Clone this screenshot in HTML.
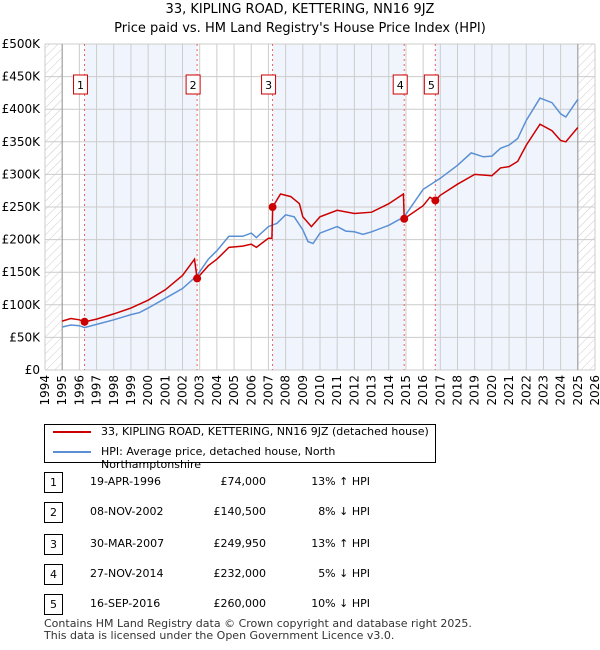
<!DOCTYPE html>
<html><head><meta charset="utf-8"><style>
body{margin:0;background:#fff;font-family:"DejaVu Sans","Liberation Sans",sans-serif;}
.t{position:absolute;font-size:12px;color:#000}
</style></head><body>
<div style="position:relative;width:600px;height:650px;overflow:hidden">
<div class="t" style="left:0;width:600px;top:0;text-align:center;font-size:13px;line-height:19px">33, KIPLING ROAD, KETTERING, NN16 9JZ<br>Price paid vs. HM Land Registry's House Price Index (HPI)</div>
<svg id="chart" width="600" height="420" style="position:absolute;left:0;top:0">
<defs><pattern id="hatch" width="6" height="6" patternUnits="userSpaceOnUse" patternTransform="rotate(45)"><line x1="0" y1="0" x2="0" y2="6" stroke="#ccc" stroke-width="1"/></pattern></defs>
</svg>
<div style="position:absolute;left:44px;top:424px;width:390px;height:37px;border:1px solid #000;font-size:11px">
<div style="position:absolute;left:8px;top:6px;width:38px;height:2px;background:#cc0000"></div>
<div style="position:absolute;left:56px;top:0px">33, KIPLING ROAD, KETTERING, NN16 9JZ (detached house)</div>
<div style="position:absolute;left:8px;top:26px;width:38px;height:2px;background:#5b8fd4"></div>
<div style="position:absolute;left:56px;top:20px">HPI: Average price, detached house, North Northamptonshire</div>
</div>
<div id="table"></div>
<div class="t" style="left:44px;top:618px;font-size:11px;line-height:12px;color:#333">Contains HM Land Registry data © Crown copyright and database right 2025.<br>This data is licensed under the Open Government Licence v3.0.</div>
</div>
<script>
const hpiX=[1995,1995.5,1996,1996.3,1997,1998,1999,1999.5,2000,2001,2002,2002.85,2003.5,2004,2004.7,2005.5,2006,2006.3,2007,2007.5,2008,2008.5,2009,2009.3,2009.6,2010,2011,2011.5,2012,2012.5,2013,2014,2014.9,2016,2017,2018,2018.8,2019.5,2020,2020.5,2021,2021.5,2022,2022.8,2023.5,2024,2024.3,2025];
const hpiY=[66000,69000,68000,65000,70000,77000,85000,88000,95000,110000,125000,145000,170000,183000,205000,205000,210000,203000,220000,225000,238000,235000,215000,197000,194000,210000,220000,213000,212000,208000,212000,222000,235000,277000,294000,314000,333000,327000,328000,340000,345000,355000,383000,417000,410000,393000,388000,415000];
const ppX=[1995,1995.5,1996,1996.3,1997,1998,1999,2000,2001,2002,2002.7,2002.85,2003.5,2004,2004.7,2005.5,2006,2006.3,2007,2007.2,2007.25,2007.7,2008.3,2008.8,2009,2009.5,2010,2011,2012,2013,2014,2014.85,2014.9,2016,2016.4,2016.7,2017,2018,2019,2020,2020.5,2021,2021.5,2022,2022.8,2023.5,2024,2024.3,2025];
const ppY=[75000,79000,77000,74000,78000,86000,95000,107000,123000,145000,170000,140500,160000,170000,188000,190000,193000,188000,202000,202000,249950,270000,266000,255000,235000,220000,235000,245000,240000,242000,255000,270000,232000,252000,265000,260000,268000,285000,300000,298000,310000,312000,320000,345000,377000,367000,352000,350000,372000];
const saleDates=[1996.3,2002.85,2007.24,2014.9,2016.71];
const salePrices=[74000,140500,249950,232000,260000];
const saleLabels=["1","2","3","4","5"];
const yTicks=[0,50000,100000,150000,200000,250000,300000,350000,400000,450000,500000];
const yTickLabels=["£0","£50K","£100K","£150K","£200K","£250K","£300K","£350K","£400K","£450K","£500K"];
const rowDates=["19-APR-1996","08-NOV-2002","30-MAR-2007","27-NOV-2014","16-SEP-2016"];
const rowPrices=["£74,000","£140,500","£249,950","£232,000","£260,000"];
const rowHpi=["13% ↑ HPI","8% ↓ HPI","13% ↑ HPI","5% ↓ HPI","10% ↓ HPI"];

const L=45,R=595,T=44,B=370,x0=1994,x1=2026;
const X=v=>L+(v-x0)/(x1-x0)*(R-L);
const Y=v=>B-v/500000*(B-T);
const svg=document.getElementById('chart');
const NS='http://www.w3.org/2000/svg';
function mk(tag,at,name){const e=document.createElementNS(NS,tag);for(const k in at)e.setAttribute(k,at[k]);


svg.appendChild(e);return e;}
// bands
const bands=[[1996.3,2002.85],[2007.24,2014.9],[2016.71,2025]];
bands.forEach(b=>mk('rect',{x:X(b[0]),y:T,width:X(b[1])-X(b[0]),height:B-T,fill:'#f0f5fd'},'shade-band'));
mk('rect',{x:L,y:T,width:X(1995)-L,height:B-T,fill:'url(#hatch)'},'hatch-left');
mk('rect',{x:X(2025),y:T,width:R-X(2025),height:B-T,fill:'url(#hatch)'},'hatch-right');
for(let yr=1994;yr<=2026;yr++){
 mk('line',{x1:X(yr),x2:X(yr),y1:T,y2:B,stroke:'#ccc','stroke-width':1},'x-grid');
 const t=mk('text',{x:0,y:0,transform:`translate(${X(yr)+4},${B+5}) rotate(-90)`,'text-anchor':'end','font-size':12,fill:'#000'},'x-tick-label');t.textContent=yr;
}
yTicks.forEach((v,i)=>{mk('line',{x1:L,x2:R,y1:Y(v),y2:Y(v),stroke:'#ccc','stroke-width':1},'y-grid');
 const t=mk('text',{x:40,y:Y(v)+4,'text-anchor':'end','font-size':12,fill:'#000'},'y-tick-label');t.textContent=yTickLabels[i];});
mk('line',{x1:X(1995),x2:X(1995),y1:T,y2:B,stroke:'#999'},'start-line');
mk('line',{x1:X(2025),x2:X(2025),y1:T,y2:B,stroke:'#999'},'end-line');
saleDates.forEach((d,i)=>{mk('line',{x1:X(d),x2:X(d),y1:T,y2:B,stroke:'#f06060','stroke-dasharray':'2,3'},'sale-line');
 mk('rect',{x:X(d)-11,y:75,width:14,height:19,fill:'#fff',stroke:'#cc0000'},'sale-marker-box');
 const t=mk('text',{x:X(d)-4,y:89,'text-anchor':'middle','font-size':11,fill:'#000'},'sale-marker-label');t.textContent=saleLabels[i];});
const pts=(xs,ys)=>xs.map((v,i)=>X(v).toFixed(1)+','+Y(ys[i]).toFixed(1)).join(' ');
mk('polyline',{points:pts(hpiX,hpiY),fill:'none',stroke:'#5b8fd4','stroke-width':1.5},'hpi-line');
mk('polyline',{points:pts(ppX,ppY),fill:'none',stroke:'#cc0000','stroke-width':1.5},'price-line');
saleDates.forEach((d,i)=>mk('circle',{cx:X(d),cy:Y(salePrices[i]),r:4,fill:'#cc0000'},'sale-point'));
// table
const tb=document.getElementById('table');
const rowY=[472,502,534,564,594];
rowY.forEach((y,i)=>{
 tb.insertAdjacentHTML('beforeend',`<div style="position:absolute;left:44px;top:${y}px;width:17px;height:19px;border:1px solid #000;font-size:11px;text-align:center;line-height:19px">${saleLabels[i]}</div>
<div class="t" style="left:90px;top:${y+3}px;font-size:11px">${rowDates[i]}</div>
<div class="t" style="left:180px;width:86px;text-align:right;top:${y+3}px;font-size:11px">${rowPrices[i]}</div>
<div class="t" style="left:270px;width:100px;text-align:right;top:${y+3}px;font-size:11px">${rowHpi[i]}</div>`);
});
</script>
</body></html>
